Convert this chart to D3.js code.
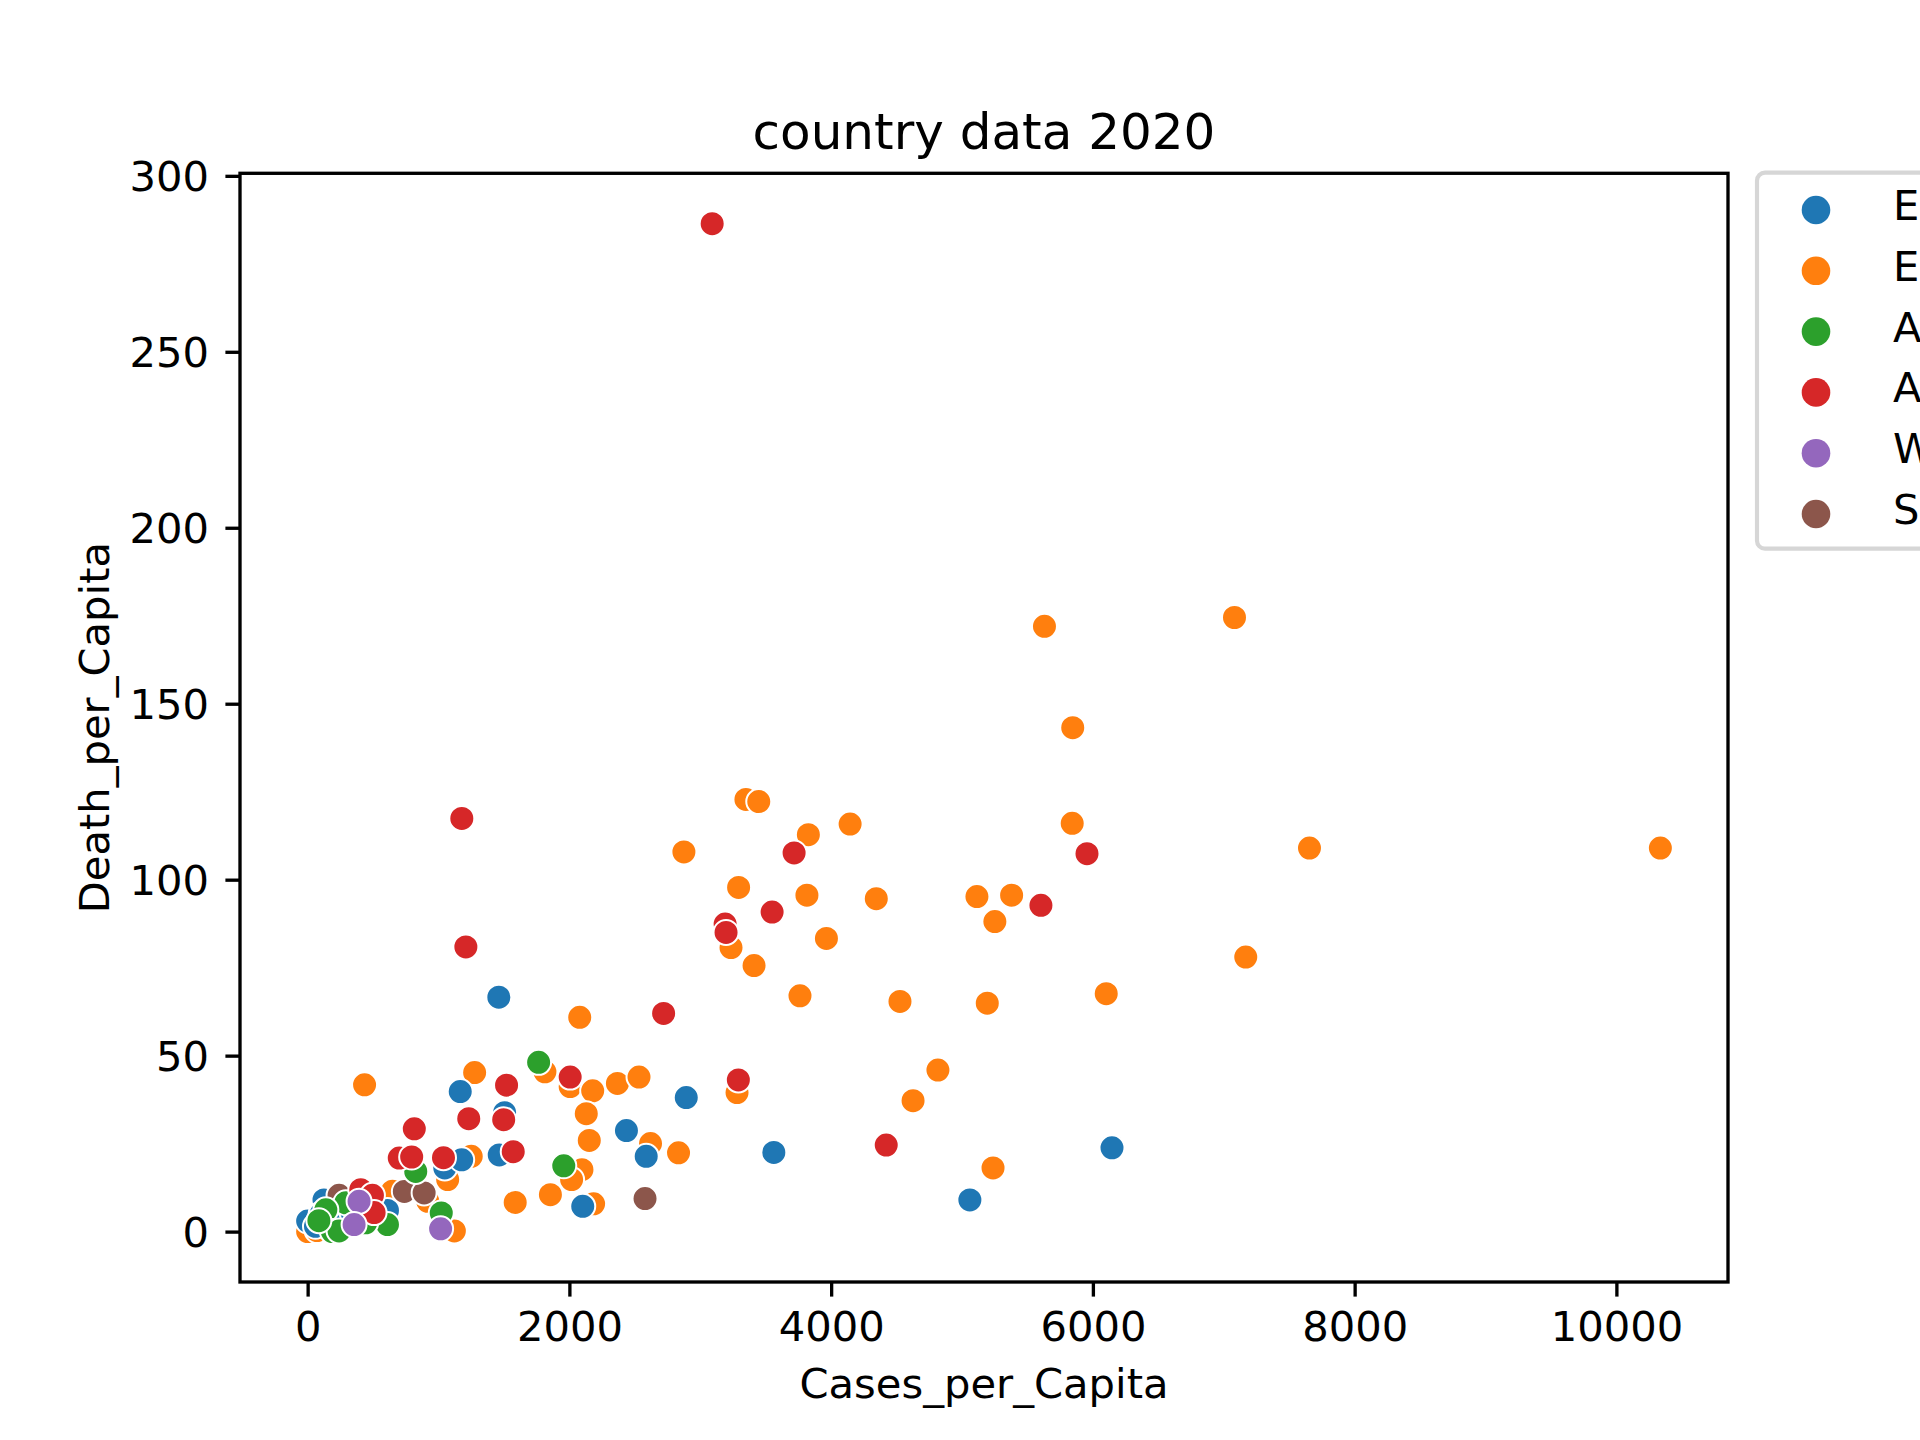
<!DOCTYPE html>
<html>
<head>
<meta charset="utf-8">
<script src="https://cdn.jsdelivr.net/npm/d3@7"></script>
<style>
  html, body { margin: 0; padding: 0; background: #fff; overflow: hidden; }
  svg { display: block; }
  text { font-family: "DejaVu Sans", sans-serif; fill: #000; }
</style>
</head>
<body>
<svg id="chart" width="1920" height="1440"></svg>
<script>
// ---- data (Cases_per_Capita, Death_per_Capita) per region ----
const regions = ["Eastern Mediterranean", "Europe", "Africa", "Americas", "Western Pacific", "South-East Asia"];
const regionColors = ["#1f77b4", "#ff7f0e", "#2ca02c", "#d62728", "#9467bd", "#8c564b"];

const easternMediterranean = [
  [1461, 66.6], [1166, 39.8], [1505, 33.8], [1048, 18.1], [1177, 20.4], [1464, 21.8],
  [2893, 38.1], [2436, 28.7], [2587, 21.4], [2102, 7.2], [3562, 22.5], [5060, 9.0],
  [6146, 23.8], [610, 6.0], [125, 9.0], [215, 6.2], [0, 3.0], [103, 5.0], [160, 3.0], [60, 1.5]
];
const europe = [
  [5630, 172.0], [7082, 174.5], [5846, 143.2], [3349, 122.8], [3447, 122.2], [3826, 112.8],
  [4145, 115.8], [5842, 116.0], [2875, 107.9], [7655, 109.0], [10336, 109.0], [3293, 97.8],
  [3815, 95.6], [4345, 94.6], [5114, 95.2], [5379, 95.6], [5251, 88.1], [3235, 80.7],
  [3964, 83.3], [3411, 75.6], [7168, 78.0], [3762, 67.0], [6102, 67.6], [4526, 65.4],
  [5193, 64.9], [2079, 60.9], [4816, 45.9], [4626, 37.2], [5237, 18.1], [435, 41.7],
  [1276, 45.2], [1813, 45.4], [2006, 41.2], [2178, 40.0], [2367, 42.1], [2532, 43.9],
  [3281, 39.5], [2129, 33.5], [2152, 25.9], [2620, 25.0], [2834, 22.4], [2096, 17.6],
  [2017, 14.8], [1586, 8.3], [1855, 10.5], [2185, 7.9], [1250, 21.4], [1070, 14.8],
  [648, 11.5], [918, 8.6], [1121, 0.2], [240, 2.4], [0, 0.0], [72, 0.3], [190, 1.0]
];
const africa = [
  [1765, 48.1], [1957, 18.7], [826, 17.1], [1021, 5.3], [610, 2.0], [444, 2.5],
  [292, 8.2], [139, 6.2], [189, 0.0], [240, 0.2], [86, 3.1]
];
const americas = [
  [3091, 286.4], [1178, 117.4], [3717, 107.6], [5955, 107.4], [3549, 90.8], [5603, 92.7],
  [3190, 87.4], [3197, 85.0], [1209, 80.9], [2720, 62.0], [3291, 43.1], [2006, 43.9],
  [1520, 41.6], [815, 29.2], [1231, 32.1], [1498, 31.8], [700, 20.9], [795, 21.2],
  [1038, 21.0], [1571, 22.7], [4421, 24.6], [406, 11.9], [495, 10.3], [508, 5.4]
];
const westernPacific = [
  [1016, 0.8], [393, 8.6], [355, 2.0]
];
const southEastAsia = [
  [2578, 9.4], [739, 11.4], [890, 11.0], [240, 10.3]
];
const seriesValues = [easternMediterranean, europe, africa, americas, westernPacific, southEastAsia];
const drawOrder = [1, 0, 5, 2, 3, 4];

const xTicks = [0, 2000, 4000, 6000, 8000, 10000];
const yTicks = [0, 50, 100, 150, 200, 250, 300];

const titleText = "country data 2020";
const xLabelText = "Cases_per_Capita";
const yLabelText = "Death_per_Capita";

// ---- layout ----
const svg = d3.select("#chart");
const plot = { left: 240, right: 1728, top: 173.3, bottom: 1282 };
const lw = 3.33;          // 0.8pt spine/tick width
const tickLen = 14.6;     // 3.5pt
const fs = 41.67;         // 10pt at 300dpi

const all = seriesValues.flat();
const xExt = d3.extent(all, d => d[0]);
const yExt = d3.extent(all, d => d[1]);
const xPad = (xExt[1] - xExt[0]) * 0.05;
const yPad = (yExt[1] - yExt[0]) * 0.05;

const x = d3.scaleLinear().domain([xExt[0] - xPad, xExt[1] + xPad]).range([plot.left, plot.right]);
const y = d3.scaleLinear().domain([yExt[0] - yPad, yExt[1] + yPad]).range([plot.bottom, plot.top]);

// points
const pts = svg.append("g");
drawOrder.forEach(i => {
  pts.append("g").selectAll("circle")
    .data(seriesValues[i])
    .join("circle")
    .attr("cx", d => x(d[0]))
    .attr("cy", d => y(d[1]))
    .attr("r", 12.5)
    .attr("fill", regionColors[i])
    .attr("stroke", "#fff")
    .attr("stroke-width", 2);
});

// x axis
const xAxis = d3.axisBottom(x).tickValues(xTicks).tickFormat(d3.format("d"))
  .tickSizeInner(tickLen).tickSizeOuter(0).tickPadding(tickLen);
const gx = svg.append("g").attr("transform", `translate(0,${plot.bottom})`).call(xAxis);
gx.select(".domain").remove();
gx.selectAll(".tick line").attr("stroke", "#000").attr("stroke-width", lw);
gx.selectAll(".tick text").attr("font-size", fs).attr("font-family", "DejaVu Sans")
  .attr("dy", null).attr("y", 59).attr("fill", "#000");

// y axis
const yAxis = d3.axisLeft(y).tickValues(yTicks).tickFormat(d3.format("d"))
  .tickSizeInner(tickLen).tickSizeOuter(0).tickPadding(tickLen);
const gy = svg.append("g").attr("transform", `translate(${plot.left},0)`).call(yAxis);
gy.select(".domain").remove();
gy.selectAll(".tick line").attr("stroke", "#000").attr("stroke-width", lw);
gy.selectAll(".tick text").attr("font-size", fs).attr("font-family", "DejaVu Sans")
  .attr("dy", null).attr("y", 15).attr("x", -31).attr("fill", "#000");

// frame
svg.append("rect")
  .attr("x", plot.left).attr("y", plot.top)
  .attr("width", plot.right - plot.left).attr("height", plot.bottom - plot.top)
  .attr("fill", "none").attr("stroke", "#000").attr("stroke-width", lw);

// title & labels
svg.append("text").attr("x", (plot.left + plot.right) / 2).attr("y", 148.5)
  .attr("text-anchor", "middle").attr("font-size", 50).text(titleText);
svg.append("text").attr("x", (plot.left + plot.right) / 2).attr("y", 1398)
  .attr("text-anchor", "middle").attr("font-size", fs).text(xLabelText);
svg.append("text")
  .attr("transform", `translate(108.5,${(plot.top + plot.bottom) / 2}) rotate(-90)`)
  .attr("text-anchor", "middle").attr("font-size", fs).text(yLabelText);

// legend (extends past the right edge, as in the reference)
const leg = svg.append("g");
leg.append("rect")
  .attr("x", 1757).attr("y", 172.7).attr("width", 600).attr("height", 376)
  .attr("rx", 8).attr("ry", 8)
  .attr("fill", "#fff").attr("fill-opacity", 0.8)
  .attr("stroke", "#d6d6d6").attr("stroke-width", 4.17);
const legY = d3.scalePoint().domain(regions).range([210, 514]);
const items = leg.selectAll("g.item").data(regions).join("g").attr("class", "item");
items.append("circle")
  .attr("cx", 1816).attr("cy", d => legY(d)).attr("r", 14.3)
  .attr("fill", (d, i) => regionColors[i]);
items.append("text")
  .attr("x", 1893).attr("y", d => legY(d) + 10)
  .attr("font-size", fs).text(d => d);
</script>
</body>
</html>
